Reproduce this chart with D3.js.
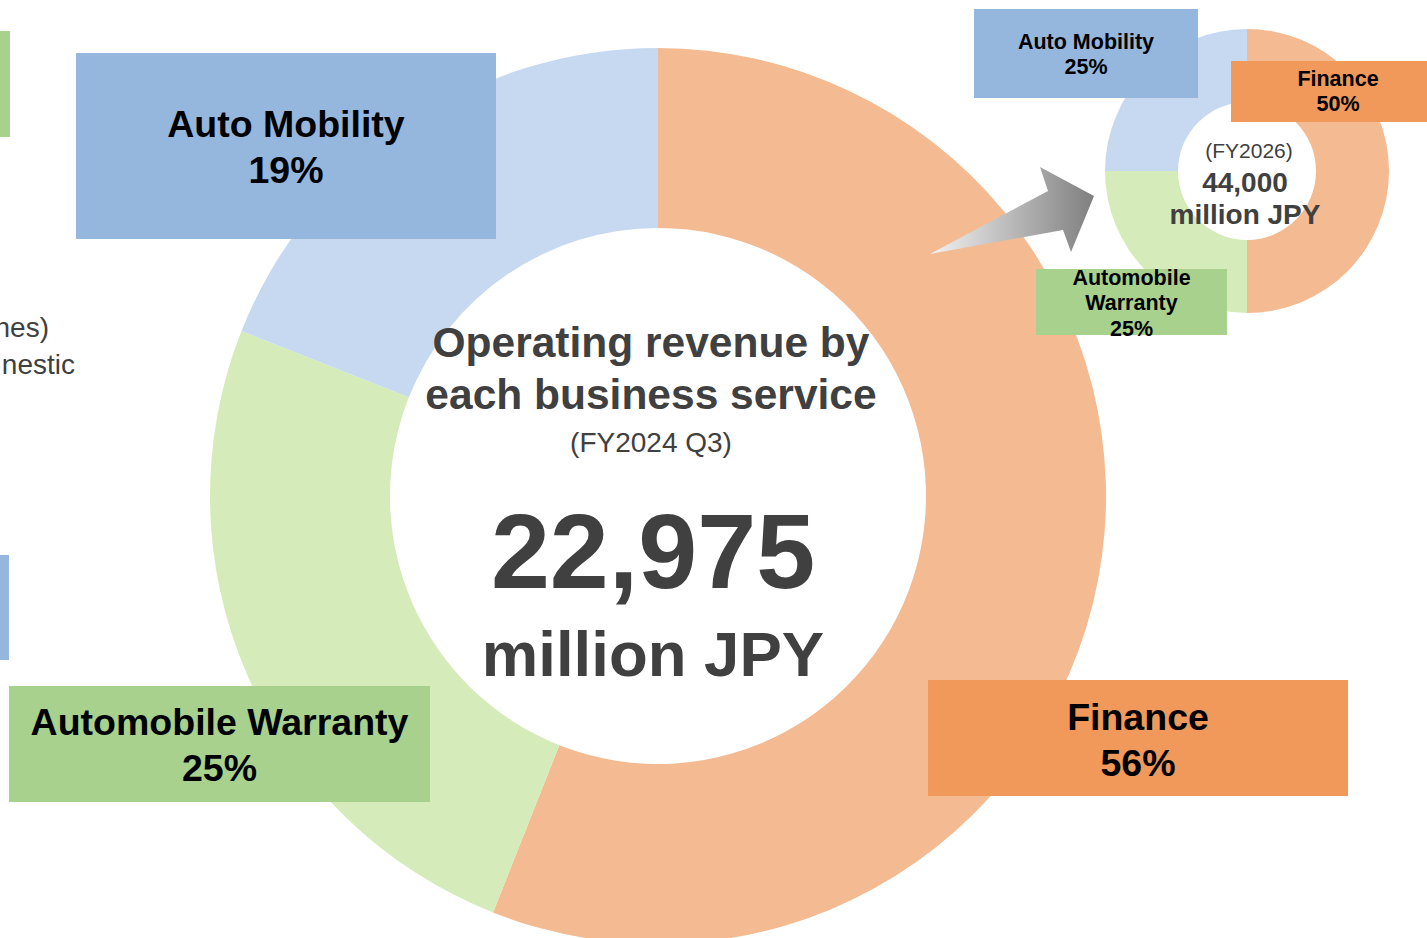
<!DOCTYPE html>
<html>
<head>
<meta charset="utf-8">
<script src="https://cdn.jsdelivr.net/npm/d3@7"></script>
<style>
  html, body { margin: 0; padding: 0; background: #ffffff; overflow: hidden; }
  text { font-family: "Liberation Sans", Arial, sans-serif; }
</style>
</head>
<body>
<div id="chart"></div>
<script>
var width = 1427;
var height = 938;

// current split (FY2024 Q3)
var segments = ["Finance", "Automobile Warranty", "Auto Mobility"];
var currentShare = [56, 25, 19];
var currentTotal = "22,975";

// target split (FY2026)
var targetShare = [50, 25, 25];
var targetTotal = "44,000";

var ringColors = ["#F4BA91", "#D5EBBA", "#C6D9F0"];
var boxColors = ["#F0995A", "#A9D18E", "#95B7DE"];
var ink = "#404040";

var svg = d3.select("#chart")
    .append("svg")
    .attr("width", width)
    .attr("height", height);

var pie = d3.pie().sort(null).value(function(d){ return d; });

function drawRing(values, cx, cy, rOuter, rInner){
    var arc = d3.arc().innerRadius(rInner).outerRadius(rOuter);
    svg.append("g")
        .attr("transform", "translate(" + cx + "," + cy + ")")
        .selectAll("path")
        .data(pie(values))
        .enter()
        .append("path")
        .attr("d", arc)
        .attr("fill", function(d, i){ return ringColors[i]; });
}

function labelBox(x, y, w, h, fill, lines, size, baselines){
    svg.append("rect")
        .attr("x", x).attr("y", y)
        .attr("width", w).attr("height", h)
        .attr("fill", fill);
    lines.forEach(function(t, i){
        svg.append("text")
            .attr("x", x + w / 2)
            .attr("y", baselines[i])
            .attr("text-anchor", "middle")
            .style("font-size", size + "px")
            .style("font-weight", "bold")
            .style("fill", "#000000")
            .text(t);
    });
}

// cut-off bits from the neighbouring slide area
svg.append("rect").attr("x", 0).attr("y", 31).attr("width", 10).attr("height", 106).attr("fill", boxColors[1]);
svg.append("rect").attr("x", 0).attr("y", 555).attr("width", 9).attr("height", 105).attr("fill", boxColors[2]);
svg.append("text").attr("x", 49).attr("y", 337).attr("text-anchor", "end")
    .style("font-size", "28px").style("fill", ink).text("nes)");
svg.append("text").attr("x", 75).attr("y", 374).attr("text-anchor", "end")
    .style("font-size", "28px").style("fill", ink).text("nestic");

// main ring
drawRing(currentShare, 658, 496, 448, 268);

// centre texts
function centerText(x, y, size, weight, t){
    svg.append("text")
        .attr("x", x).attr("y", y)
        .attr("text-anchor", "middle")
        .style("font-size", size + "px")
        .style("font-weight", weight)
        .style("fill", ink)
        .text(t);
}
centerText(651, 357, 42.5, "bold", "Operating revenue by");
centerText(651, 409, 42.5, "bold", "each business service");
centerText(651, 452, 28, "normal", "(FY2024 Q3)");
centerText(653, 588, 106, "bold", currentTotal);
centerText(653, 676, 63.5, "bold", "million JPY");

// main labels
labelBox(76, 53, 420, 186, boxColors[2], ["Auto Mobility", currentShare[2] + "%"], 37.5, [137, 183]);
labelBox(9, 686, 421, 116, boxColors[1], ["Automobile Warranty", currentShare[1] + "%"], 37.5, [735, 781]);
labelBox(928, 680, 420, 116, boxColors[0], ["Finance", currentShare[0] + "%"], 37.5, [730, 776]);

// arrow
var grad = svg.append("defs").append("linearGradient")
    .attr("id", "arrowGrad")
    .attr("x1", "0%").attr("y1", "0%").attr("x2", "100%").attr("y2", "0%");
grad.append("stop").attr("offset", "0%").attr("stop-color", "#f2f2f2");
grad.append("stop").attr("offset", "100%").attr("stop-color", "#7f7f7f");
var arrowPts = [[930, 254], [1048, 191], [1040, 167], [1094, 196], [1071, 252], [1063, 230]];
svg.append("path")
    .attr("d", d3.line()(arrowPts) + "Z")
    .attr("fill", "url(#arrowGrad)");

// small ring
drawRing(targetShare, 1247, 171, 142, 69);
centerText(1249, 158, 21, "normal", "(FY2026)");
centerText(1245, 192, 28, "bold", targetTotal);
centerText(1245, 224, 28, "bold", "million JPY");

labelBox(974, 9, 224, 89, boxColors[2], ["Auto Mobility", targetShare[2] + "%"], 21.5, [49, 74]);
labelBox(1231, 61, 214, 61, boxColors[0], ["Finance", targetShare[0] + "%"], 21.5, [86, 111]);
labelBox(1036, 269, 191, 66, boxColors[1], ["Automobile", "Warranty", targetShare[1] + "%"], 21.5, [285, 310, 336]);
</script>
</body>
</html>
